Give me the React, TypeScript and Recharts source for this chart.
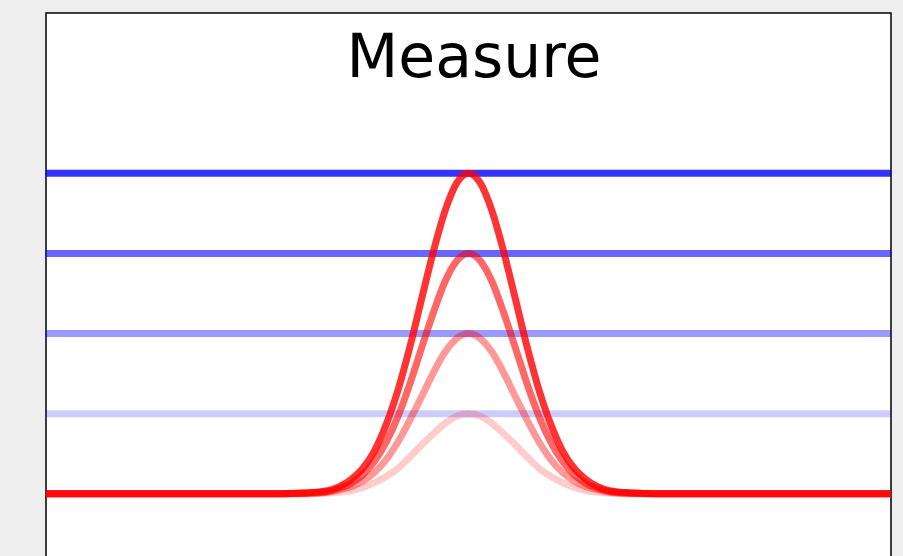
import React from "react";
import { LineChart, Line, XAxis, YAxis, ReferenceArea, CartesianGrid } from "recharts";

const title = "Measure";

const xs = [
  -9, -4, -3.5, -3, -2.75, -2.5, -2.25, -2, -1.75, -1.5, -1.25, -1, -0.75, -0.5, -0.25, 0,
  0.25, 0.5, 0.75, 1, 1.25, 1.5, 1.75, 2, 2.25, 2.5, 2.75, 3, 3.5, 4, 9,
];

const peak4 = [
  0, 0, 0.01, 0.04, 0.09, 0.18, 0.32, 0.54, 0.87, 1.3, 1.83, 2.43, 3.02, 3.53, 3.88, 4.0,
  3.88, 3.53, 3.02, 2.43, 1.83, 1.3, 0.87, 0.54, 0.32, 0.18, 0.09, 0.04, 0.01, 0, 0,
];
const peak3 = [
  0, 0, 0.01, 0.03, 0.07, 0.13, 0.24, 0.41, 0.65, 0.97, 1.37, 1.82, 2.26, 2.65, 2.91, 3.0,
  2.91, 2.65, 2.26, 1.82, 1.37, 0.97, 0.65, 0.41, 0.24, 0.13, 0.07, 0.03, 0.01, 0, 0,
];
const peak2 = [
  0, 0, 0, 0.02, 0.05, 0.09, 0.16, 0.27, 0.43, 0.65, 0.92, 1.21, 1.51, 1.77, 1.94, 2.0,
  1.94, 1.77, 1.51, 1.21, 0.92, 0.65, 0.43, 0.27, 0.16, 0.09, 0.05, 0.02, 0, 0, 0,
];
const peak1 = [
  0, 0, 0, 0.01, 0.02, 0.04, 0.08, 0.14, 0.22, 0.32, 0.46, 0.61, 0.75, 0.88, 0.97, 1.0,
  0.97, 0.88, 0.75, 0.61, 0.46, 0.32, 0.22, 0.14, 0.08, 0.04, 0.02, 0.01, 0, 0, 0,
];

const levels = [4, 3, 2, 1];
const opacities = [0.8, 0.6, 0.4, 0.2];

const rows = xs.map((x, i) => ({
  x,
  r4: peak4[i],
  r3: peak3[i],
  r2: peak2[i],
  r1: peak1[i],
  b4: levels[0],
  b3: levels[1],
  b2: levels[2],
  b1: levels[3],
}));

const blueKeys = ["b4", "b3", "b2", "b1"];
const redKeys = ["r1", "r2", "r3", "r4"];
const redOpacities = [0.2, 0.4, 0.6, 0.8];

export default function App() {
  return (
    <div
      style={{
        position: "absolute",
        left: 0,
        top: 0,
        width: 903,
        height: 556,
        overflow: "hidden",
        background: "#eeeeee",
      }}
    >
      <LineChart
        width={903}
        height={600}
        data={rows}
        margin={{ top: 13, left: 46, right: 12, bottom: 26 }}
      >
        <CartesianGrid horizontal={false} vertical={false} fill="#ffffff" />
        <XAxis dataKey="x" type="number" domain={[-9, 9]} hide allowDataOverflow />
        <YAxis type="number" domain={[-1, 6]} hide allowDataOverflow />
        {blueKeys.map((k, i) => (
          <Line
            key={k}
            dataKey={k}
            type="linear"
            stroke="#0000ff"
            strokeOpacity={opacities[i]}
            strokeWidth={7}
            dot={false}
            activeDot={false}
            isAnimationActive={false}
          />
        ))}
        {redKeys.map((k, i) => (
          <Line
            key={k}
            dataKey={k}
            type="monotone"
            stroke="#ff0000"
            strokeOpacity={redOpacities[i]}
            strokeWidth={7}
            dot={false}
            activeDot={false}
            isAnimationActive={false}
          />
        ))}
        <ReferenceArea
          x1={-9}
          x2={9}
          y1={-1}
          y2={6}
          fill="none"
          fillOpacity={0}
          stroke="#000000"
          strokeWidth={1.5}
          ifOverflow="visible"
        />
      </LineChart>
      <div
        style={{
          position: "absolute",
          left: 274,
          width: 400,
          top: 26,
          textAlign: "center",
          fontFamily: "'DejaVu Sans'",
          fontSize: 60,
          lineHeight: "60px",
          color: "#000",
        }}
      >
        {title}
      </div>
    </div>
  );
}
